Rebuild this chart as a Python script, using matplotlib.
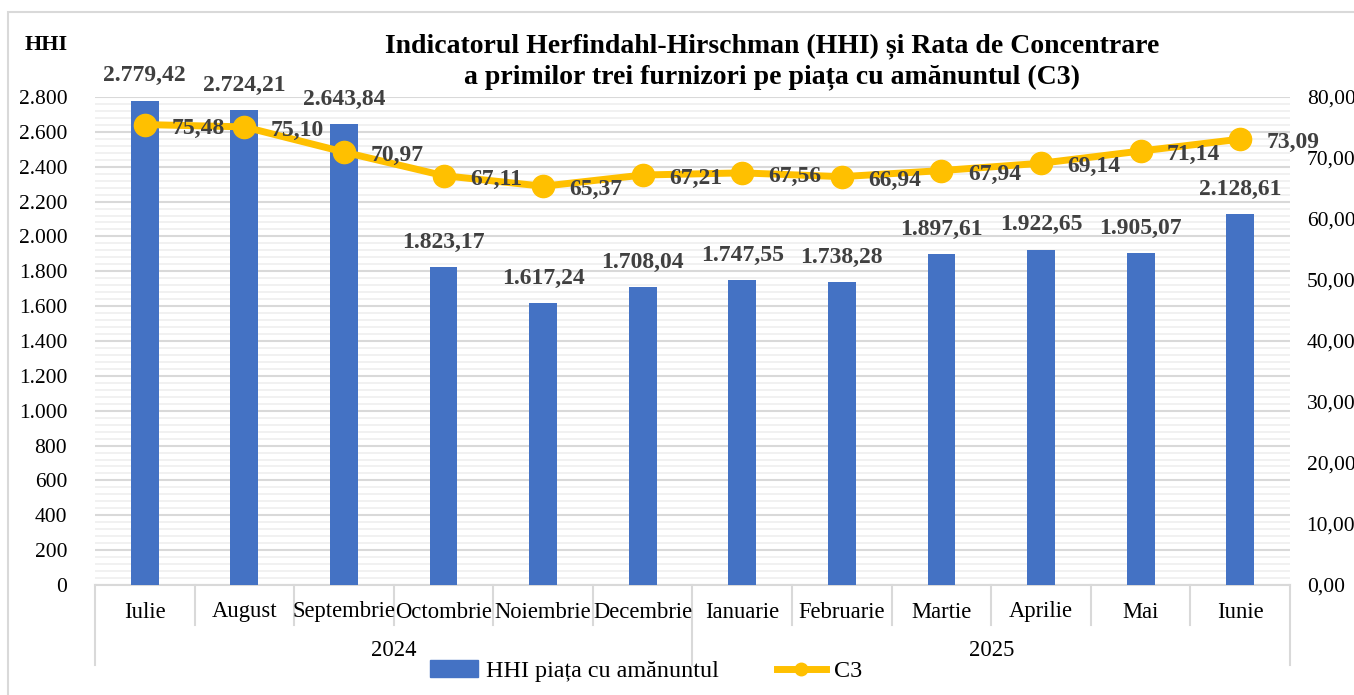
import numpy as np
import matplotlib
matplotlib.use("Agg")
import matplotlib.pyplot as plt
from matplotlib.patches import Patch, Rectangle
from matplotlib.lines import Line2D
from matplotlib.ticker import MultipleLocator, FuncFormatter

# data
months = ["Iulie", "August", "Septembrie", "Octombrie", "Noiembrie", "Decembrie",
          "Ianuarie", "Februarie", "Martie", "Aprilie", "Mai", "Iunie"]
years = ["2024", "2025"]
hhi = [2779.42, 2724.21, 2643.84, 1823.17, 1617.24, 1708.04,
       1747.55, 1738.28, 1897.61, 1922.65, 1905.07, 2128.61]
c3 = [75.48, 75.10, 70.97, 67.11, 65.37, 67.21,
      67.56, 66.94, 67.94, 69.14, 71.14, 73.09]

plt.rcParams['font.family'] = ['Liberation Serif', 'DejaVu Serif']

BLUE = "#4472C4"
GOLD = "#FFC000"
LABEL = "#404040"
GRID = "#D9D9D9"
FS = 15.5     # tick labels
FS_CAT = 16.3  # category labels
FS_DL = 17    # data labels


def ro(v, dec=2):
    """Romanian number format: 2.779,42"""
    s = f"{v:,.{dec}f}"
    return s.replace(",", "X").replace(".", ",").replace("X", ".")


W, H = 1354, 695
fig = plt.figure(figsize=(W / 100, H / 100), dpi=100)
L, R, T, B = 95, 1290, 97, 585
ax = fig.add_axes([L / W, 1 - B / H, (R - L) / W, (B - T) / H])
ax2 = ax.twinx()

# outer frame
fig.patches.append(Rectangle((8 / W, -0.05), 1.2, 1 - 12 / H + 0.05, transform=fig.transFigure,
                             fill=False, ec=GRID, lw=1.5))

x = np.arange(len(months))
ax.bar(x, hhi, width=0.28, color=BLUE, zorder=3)
ax.set_xlim(-0.5, len(months) - 0.5)
ax.set_ylim(0, 2800)
ax.yaxis.set_major_locator(MultipleLocator(200))
ax.yaxis.set_minor_locator(MultipleLocator(40))
ax.yaxis.set_major_formatter(FuncFormatter(lambda v, p: ro(v, 0)))
ax.grid(axis="y", which="major", color=GRID, lw=1.5, zorder=0)
ax.grid(axis="y", which="minor", color="#F0F0F0", lw=1.3, zorder=0)
ax.set_axisbelow(True)
ax.tick_params(axis="y", which="both", length=0, labelsize=FS, pad=20)
ax.tick_params(axis="x", length=0, labelbottom=False)
for s in ["top", "right", "left"]:
    ax.spines[s].set_visible(False)
ax.spines["bottom"].set_color(GRID)
ax.spines["bottom"].set_linewidth(1.5)

ax2.plot(x, c3, color=GOLD, lw=5, marker="o", markersize=16, zorder=4)
ax2.set_ylim(0, 80)
ax2.yaxis.set_major_locator(MultipleLocator(10))
ax2.yaxis.set_major_formatter(FuncFormatter(lambda v, p: ro(v, 2)))
ax2.tick_params(axis="y", length=0, labelsize=FS, pad=12)
for s in ax2.spines.values():
    s.set_visible(False)

# data labels
for i, v in enumerate(hhi):
    ax.annotate(ro(v), (i, v), xytext=(0, 18), textcoords="offset points",
                ha="center", va="center", fontsize=FS_DL, fontweight="bold", color=LABEL,
                zorder=5)
for i, v in enumerate(c3):
    ax2.annotate(ro(v), (i, v), xytext=(19, -2.5), textcoords="offset points",
                 ha="left", va="center", fontsize=FS_DL, fontweight="bold", color=LABEL,
                 zorder=5)

# two-level category axis
xt = ax.get_xaxis_transform()
d1 = -(625 - B) / (B - T)
d2 = -(665 - B) / (B - T)
for k in range(len(months) + 1):
    edge = k - 0.5
    depth = d2 if k in (0, 6, 12) else d1
    ax.plot([edge, edge], [0, depth], transform=xt, color=GRID, lw=1.5, clip_on=False)
for i, m in enumerate(months):
    ax.text(i, -(612 - B) / (B - T), m, transform=xt, ha="center", va="center",
            fontsize=FS_CAT)
for j, yr in enumerate(years):
    ax.text(j * 6 + 2.5, -(650 - B) / (B - T), yr, transform=xt, ha="center", va="center",
            fontsize=FS_CAT)

# titles
fig.text(772 / W, 1 - 62 / H,
         "Indicatorul Herfindahl-Hirschman (HHI) și Rata de Concentrare\n"
         "a primilor trei furnizori pe piața cu amănuntul (C3)",
         ha="center", va="center", fontsize=20, fontweight="bold", linespacing=1.28)
fig.text(25 / W, 1 - 45 / H, "HHI", ha="left", va="center", fontsize=16, fontweight="bold")

# legend
handles = [Patch(color=BLUE, label="HHI piața cu amănuntul"),
           Line2D([0], [0], color=GOLD, lw=5, marker="o", markersize=9, label="C3")]
fig.legend(handles=handles, loc="center", bbox_to_anchor=(646 / W, 1 - 671 / H), ncol=2,
           frameon=False, prop={"family": "Liberation Serif", "size": 17.4},
           handlelength=2.0, handletextpad=0.35, columnspacing=2.4,
           borderpad=0, borderaxespad=0)

fig.savefig("out.png", dpi=100)
